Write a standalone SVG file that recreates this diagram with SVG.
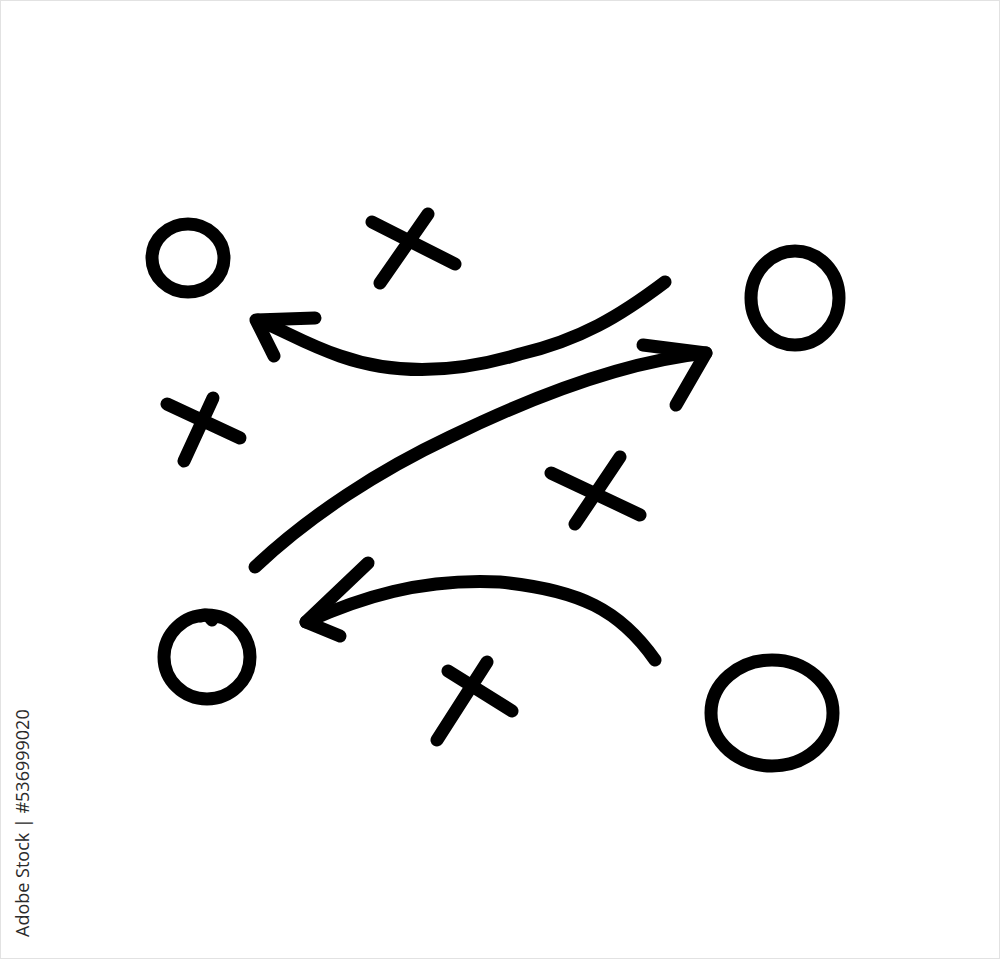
<svg xmlns="http://www.w3.org/2000/svg" width="1000" height="959" viewBox="0 0 1000 959">
<style>
.s{fill:none;stroke:#000;stroke-width:13;stroke-linecap:round;stroke-linejoin:round}
.c{fill:none;stroke:#000;stroke-width:13}
.wm{font-family:"Open Sans","Liberation Sans",sans-serif;font-size:18px;fill:#2a2a2a}
</style>
<rect x="0.5" y="0.5" width="999" height="958" fill="#fff" stroke="#e2e2e2"/>
<g id="o1"><ellipse class="c" cx="188" cy="258" rx="36" ry="34"/></g>
<g id="o2"><ellipse class="c" cx="795" cy="298" rx="44" ry="47"/></g>
<g id="o3"><ellipse class="c" cx="207" cy="657" rx="43" ry="42"/><path class="s" d="M201 616 Q207 613 212 620"/></g>
<g id="o4"><ellipse class="c" cx="772" cy="713" rx="61" ry="53"/></g>
<g id="x1"><path class="s" d="M372 222 L455 264 M428 214 L380 283"/></g>
<g id="x2"><path class="s" d="M167 404 L240 438 M213 398 L184 461"/></g>
<g id="x3"><path class="s" d="M551 473 L640 515 M620 457 L575 524"/></g>
<g id="x4"><path class="s" d="M448 671 L512 711 M487 662 L437 740"/></g>
<g id="connectors">
<path class="s" d="M665 282 C620 316 580 340 520 354 C460 372 400 377 340 356 C305 344 285 331 258 320"/>
<path class="s" d="M315 318 L256 320 L274 356"/>
<path class="s" d="M255 567 C310 515 380 470 450 437 C530 398 620 362 706 353"/>
<path class="s" d="M643 345 L706 353 L676 405"/>
<path class="s" d="M655 660 C620 610 580 590 500 582 C420 578 360 598 306 622"/>
<path class="s" d="M368 563 L306 622 L340 636"/>
</g>
<text class="wm" transform="translate(29 937) rotate(-90)">Adobe Stock | #536999020</text>
</svg>
